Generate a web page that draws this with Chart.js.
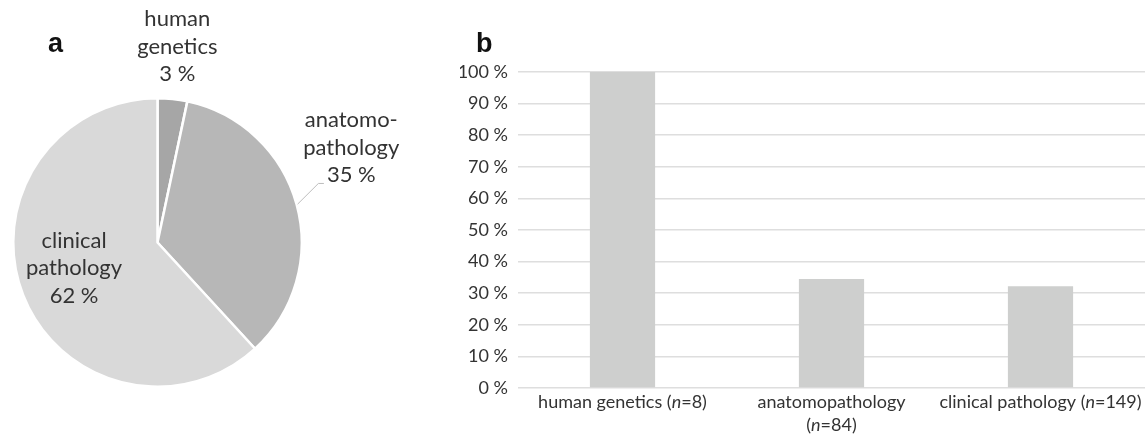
<!DOCTYPE html>
<html><head><meta charset="utf-8">
<script src="https://cdn.jsdelivr.net/npm/chart.js@4"></script>
<style>
html,body{margin:0;padding:0;background:#fff;}
#wrap{position:relative;width:1146px;height:434px;overflow:hidden;}
#pieBox{position:absolute;left:0;top:0;width:460px;height:434px;}
#barBox{position:absolute;left:460px;top:0;width:686px;height:434px;}
</style></head>
<body>
<div id="wrap">
  <div id="pieBox"><canvas id="pie" width="460" height="434"></canvas></div>
  <div id="barBox"><canvas id="bar" width="686" height="434"></canvas></div>
</div>
<script>
// ---- Panel a: pie ----
const pieCategories = ['human genetics', 'anatomopathology', 'clinical pathology'];
const pieLabelLines = [['human', 'genetics'], ['anatomo-', 'pathology'], ['clinical', 'pathology']];
const pieCounts = [8, 84, 149];
const piePercentLabels = ['3 %', '35 %', '62 %'];
const pieColors = ['#a6a6a6', '#b7b7b7', '#d9d9d9'];

// ---- Panel b: bar ----
const barCategories = ['human genetics', 'anatomopathology', 'clinical pathology'];
const barN = [8, 84, 149];
const barValues = [100, 34.5, 32.2];
const xTickLabels = [['human genetics (n=8)'], ['anatomopathology', '(n=84)'], ['clinical pathology (n=149)']];
const yTickValues = [0, 10, 20, 30, 40, 50, 60, 70, 80, 90, 100];

const TEXT = '#333333';
const FONT = 'Lato, "Open Sans", sans-serif';

Chart.defaults.animation = false;
Chart.defaults.font.family = FONT;
Chart.defaults.color = TEXT;

const panelLetter = {
  id: 'panelLetter',
  afterDraw(chart, args, opts) {
    const ctx = chart.ctx;
    ctx.save();
    ctx.font = 'bold 27px "Liberation Sans", Arial, sans-serif';
    ctx.fillStyle = '#111';
    ctx.textAlign = 'left';
    ctx.textBaseline = 'alphabetic';
    ctx.fillText(opts.text, opts.x, opts.y);
    ctx.restore();
  }
};

const pieLabels = {
  id: 'pieLabels',
  afterDatasetsDraw(chart, args, opts) {
    const ctx = chart.ctx;
    const meta = chart.getDatasetMeta(0);
    ctx.save();
    ctx.font = opts.font;
    ctx.fillStyle = TEXT;
    ctx.textAlign = 'center';
    ctx.textBaseline = 'alphabetic';
    meta.data.forEach((arc, i) => {
      const p = arc.getProps(['x', 'y', 'startAngle', 'endAngle', 'outerRadius'], true);
      const midRaw = (p.startAngle + p.endAngle) / 2;
      const mid = midRaw + opts.angleShift[i] * Math.PI / 180;
      const r = p.outerRadius * opts.radius[i];
      const cx = p.x + Math.cos(mid) * r;
      const cy = p.y + Math.sin(mid) * r;
      const lines = pieLabelLines[i].concat([piePercentLabels[i]]);
      const n = lines.length;
      lines.forEach((t, k) => ctx.fillText(t, cx, cy + (k - (n - 1) / 2) * opts.lineHeight));
      if (opts.leader[i]) {
        const lastY = cy + ((n - 1) / 2) * opts.lineHeight;
        const w = ctx.measureText(lines[n - 1]).width;
        const left = cx - w / 2;
        const sx = p.x + Math.cos(midRaw) * (p.outerRadius + 1);
        const sy = p.y + Math.sin(midRaw) * (p.outerRadius + 1);
        ctx.strokeStyle = '#bdbdbd';
        ctx.lineWidth = 1;
        ctx.beginPath();
        ctx.moveTo(sx, sy);
        ctx.lineTo(left - 8.5, lastY + 1);
        ctx.lineTo(left - 3, lastY + 1);
        ctx.stroke();
      }
    });
    ctx.restore();
  }
};

new Chart(document.getElementById('pie'), {
  type: 'pie',
  data: {
    labels: pieCategories,
    datasets: [{
      data: pieCounts,
      backgroundColor: pieColors,
      borderColor: '#ffffff',
      borderWidth: 2.5
    }]
  },
  options: {
    responsive: false,
    layout: { padding: { left: 12, right: 157, top: 97, bottom: 46 } },
    plugins: {
      legend: { display: false },
      tooltip: { enabled: false },
      panelLetter: { text: 'a', x: 48, y: 51.7 },
      pieLabels: {
        font: '22px ' + FONT,
        lineHeight: 27.5,
        radius: [1.317, 1.474, 0.621],
        angleShift: [0, -9, 0],
        leader: [false, true, false]
      }
    }
  },
  plugins: [pieLabels, panelLetter]
});

const xLabelPlugin = {
  id: 'xLabelPlugin',
  afterDraw(chart, args, opts) {
    const ctx = chart.ctx;
    const xs = chart.scales.x;
    const base = chart.chartArea.bottom + opts.offset;
    ctx.save();
    ctx.fillStyle = TEXT;
    ctx.textBaseline = 'alphabetic';
    ctx.textAlign = 'left';
    const normal = opts.size + 'px ' + FONT;
    const italic = 'italic ' + opts.size + 'px ' + FONT;
    xTickLabels.forEach((lines, i) => {
      const cx = xs.getPixelForValue(i);
      lines.forEach((line, k) => {
        const y = base + k * opts.lineHeight;
        const idx = line.indexOf('(n=');
        let parts;
        if (idx >= 0) {
          parts = [[line.slice(0, idx + 1), normal], ['n', italic], [line.slice(idx + 2), normal]];
        } else {
          parts = [[line, normal]];
        }
        let total = 0;
        parts.forEach(pt => { ctx.font = pt[1]; total += ctx.measureText(pt[0]).width; });
        let x = cx - total / 2;
        parts.forEach(pt => { ctx.font = pt[1]; ctx.fillText(pt[0], x, y); x += ctx.measureText(pt[0]).width; });
      });
    });
    ctx.restore();
  }
};

new Chart(document.getElementById('bar'), {
  type: 'bar',
  data: {
    labels: xTickLabels,
    datasets: [{
      data: barValues,
      backgroundColor: '#cecfce',
      borderWidth: 0,
      categoryPercentage: 1,
      barPercentage: 0.312
    }]
  },
  options: {
    responsive: false,
    layout: { padding: { left: 0, right: 1, top: 72, bottom: 0 } },
    scales: {
      x: {
        grid: { display: false },
        border: { display: false },
        ticks: { display: false },
        afterFit(scale) { scale.height = 46; }
      },
      y: {
        min: 0,
        max: 100,
        afterBuildTicks(scale) { scale.ticks = yTickValues.map(v => ({ value: v })); },
        grid: { color: '#dedede', lineWidth: 1.5, drawTicks: false },
        border: { display: false },
        ticks: {
          padding: 10,
          color: TEXT,
          font: { size: 18, family: FONT },
          callback: v => v + ' %'
        },
        afterFit(scale) { scale.width = 58; }
      }
    },
    plugins: {
      legend: { display: false },
      tooltip: { enabled: false },
      panelLetter: { text: 'b', x: 16, y: 51.7 },
      xLabelPlugin: { offset: 20, lineHeight: 22.5, size: 18 }
    }
  },
  plugins: [xLabelPlugin, panelLetter]
});
</script>
</body></html>
